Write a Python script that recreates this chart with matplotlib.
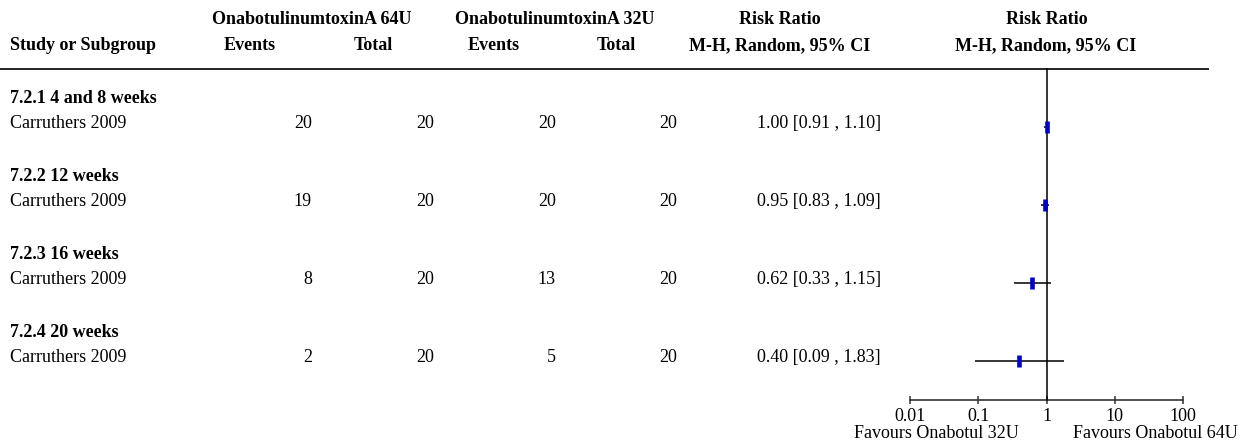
import matplotlib
matplotlib.use("Agg")
import matplotlib.pyplot as plt

# ---- data -------------------------------------------------------------
subgroups = ["7.2.1 4 and 8 weeks", "7.2.2 12 weeks", "7.2.3 16 weeks", "7.2.4 20 weeks"]
studies = ["Carruthers 2009", "Carruthers 2009", "Carruthers 2009", "Carruthers 2009"]
events_64 = [20, 19, 8, 2]
total_64 = [20, 20, 20, 20]
events_32 = [20, 20, 13, 5]
total_32 = [20, 20, 20, 20]
rr = [1.00, 0.95, 0.62, 0.40]
ci_low = [0.91, 0.83, 0.33, 0.09]
ci_high = [1.10, 1.09, 1.15, 1.83]
axis_ticks = [0.01, 0.1, 1, 10, 100]
axis_tick_labels = ["0.01", "0.1", "1", "10", "100"]
favours_left = "Favours Onabotul 32U"
favours_right = "Favours Onabotul 64U"

# ---- figure setup ----------------------------------------------------
W, H, DPI = 1246, 446, 100
plt.rcParams["font.family"] = ["Liberation Serif", "DejaVu Serif"]
FS = 13

fig = plt.figure(figsize=(W / DPI, H / DPI), dpi=DPI)
fig.patch.set_facecolor("white")

# table layer in pixel coordinates
tab = fig.add_axes([0, 0, 1, 1])
tab.set_xlim(0, W)
tab.set_ylim(H, 0)
tab.axis("off")

# forest plot on a log axis
x0, x1 = 910, 1183
fa = fig.add_axes([x0 / W, 0, (x1 - x0) / W, 1])
fa.set_xscale("log")
fa.set_xlim(0.01, 100)
fa.set_ylim(H, 0)
fa.patch.set_visible(False)
for s in ("top", "left", "right"):
    fa.spines[s].set_visible(False)
fa.spines["bottom"].set_position(("data", 400))
fa.spines["bottom"].set_linewidth(1.2)
fa.spines["bottom"].set_color("#333333")
fa.set_yticks([])
fa.set_xticks(axis_ticks)
fa.set_xticklabels(axis_tick_labels)
fa.minorticks_off()
fa.tick_params(axis="x", direction="inout", length=6, width=1.1, color="#333333",
               labelsize=FS, pad=3)

# ---- headers --------------------------------------------------------
hb1, hb2 = 24, 50
bold = dict(fontsize=FS, fontweight="bold", va="baseline")
tab.text(312, hb1, "OnabotulinumtoxinA 64U", ha="center", **bold)
tab.text(555, hb1, "OnabotulinumtoxinA 32U", ha="center", **bold)
tab.text(780, hb1, "Risk Ratio", ha="center", **bold)
tab.text(1047, hb1, "Risk Ratio", ha="center", **bold)
tab.text(10, hb2, "Study or Subgroup", ha="left", **bold)
tab.text(250, hb2, "Events", ha="center", **bold)
tab.text(373, hb2, "Total", ha="center", **bold)
tab.text(494, hb2, "Events", ha="center", **bold)
tab.text(616, hb2, "Total", ha="center", **bold)
tab.text(780, hb2, "M-H, Random, 95% CI", ha="center", **bold)
tab.text(1046, hb2, "M-H, Random, 95% CI", ha="center", **bold)
tab.plot([0, 1209], [68.5, 68.5], color="black", lw=1.2, solid_capstyle="butt")

# ---- rows -----------------------------------------------------------
normal = dict(fontsize=FS, va="baseline")
step = 78
for i in range(len(subgroups)):
    gb = 103 + i * step
    sb = 128 + i * step
    tab.text(10, gb, subgroups[i], ha="left", fontweight="bold", **normal)
    tab.text(10, sb, studies[i], ha="left", **normal)
    tab.text(312, sb, str(events_64[i]), ha="right", **normal)
    tab.text(434, sb, str(total_64[i]), ha="right", **normal)
    tab.text(556, sb, str(events_32[i]), ha="right", **normal)
    tab.text(677, sb, str(total_32[i]), ha="right", **normal)
    tab.text(757, sb,
             f"{rr[i]:.2f} [{ci_low[i]:.2f} , {ci_high[i]:.2f}]",
             ha="left", **normal)
    yc = sb - 1.5
    fa.plot([ci_low[i], ci_high[i]], [yc, yc], color="black", lw=1.1,
            solid_capstyle="butt", clip_on=False, zorder=2)
    fa.plot([rr[i]], [yc], marker="|", ms=8.6, mew=3.3, color="#0000cc",
            linestyle="none", clip_on=False, zorder=4)

# line of no effect
fa.plot([1, 1], [68.5, 400], color="black", lw=1.1, clip_on=False, zorder=3)

# favours labels
tab.text(1019, 438, favours_left, ha="right", **normal)
tab.text(1073, 438, favours_right, ha="left", **normal)

fig.savefig("out.png", dpi=DPI, facecolor="white")
